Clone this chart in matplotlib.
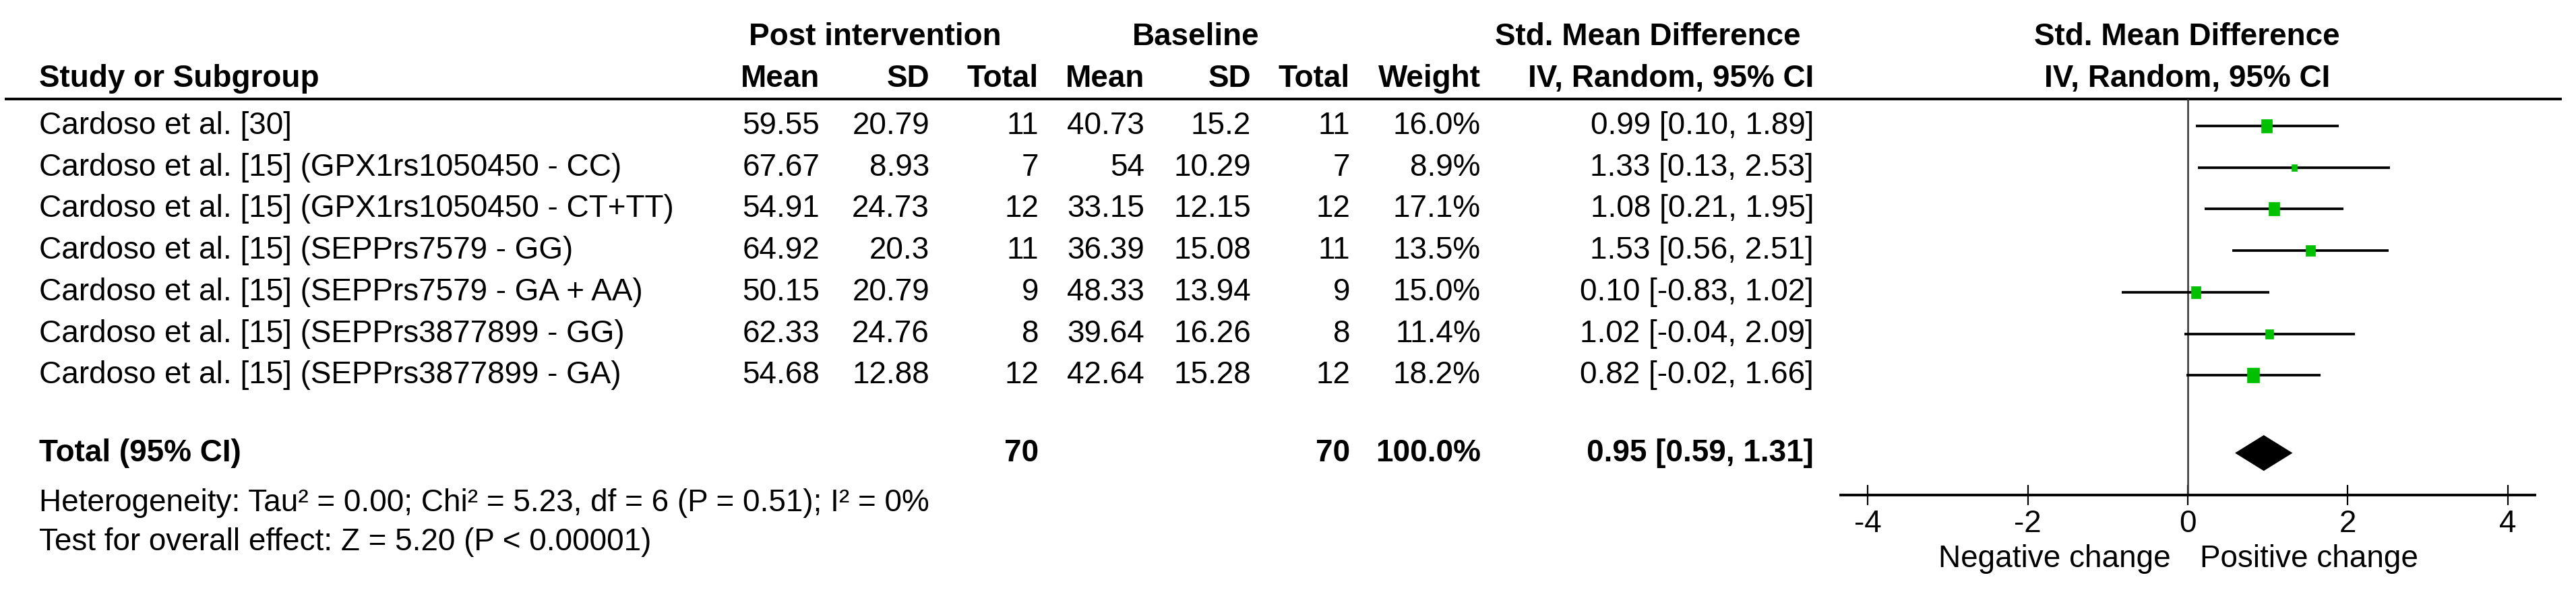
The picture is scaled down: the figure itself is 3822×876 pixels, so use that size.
import numpy as np
import matplotlib.pyplot as plt
from matplotlib.path import Path

plt.rcParams['font.family'] = ['Liberation Sans', 'DejaVu Sans']
plt.rcParams['axes.unicode_minus'] = False

# data
studies = [
    "Cardoso et al. [30]",
    "Cardoso et al. [15] (GPX1rs1050450 - CC)",
    "Cardoso et al. [15] (GPX1rs1050450 - CT+TT)",
    "Cardoso et al. [15] (SEPPrs7579 - GG)",
    "Cardoso et al. [15] (SEPPrs7579 - GA + AA)",
    "Cardoso et al. [15] (SEPPrs3877899 - GG)",
    "Cardoso et al. [15] (SEPPrs3877899 - GA)",
]
post_mean = [59.55, 67.67, 54.91, 64.92, 50.15, 62.33, 54.68]
post_sd = [20.79, 8.93, 24.73, 20.3, 20.79, 24.76, 12.88]
post_n = [11, 7, 12, 11, 9, 8, 12]
base_mean = [40.73, 54, 33.15, 36.39, 48.33, 39.64, 42.64]
base_sd = [15.2, 10.29, 12.15, 15.08, 13.94, 16.26, 15.28]
base_n = [11, 7, 12, 11, 9, 8, 12]
weight = [16.0, 8.9, 17.1, 13.5, 15.0, 11.4, 18.2]
smd = [0.99, 1.33, 1.08, 1.53, 0.10, 1.02, 0.82]
ci_lo = [0.10, 0.13, 0.21, 0.56, -0.83, -0.04, -0.02]
ci_hi = [1.89, 2.53, 1.95, 2.51, 1.02, 2.09, 1.66]

total_post_n = 70
total_base_n = 70
total_weight = 100.0
pooled = 0.95
pooled_lo = 0.59
pooled_hi = 1.31

heterogeneity = "Heterogeneity: Tau\u00b2 = 0.00; Chi\u00b2 = 5.23, df = 6 (P = 0.51); I\u00b2 = 0%"
overall = "Test for overall effect: Z = 5.20 (P < 0.00001)"
xticks = [-4, -2, 0, 2, 4]

# layout in pixels
W, H = 3822, 876
fs = 33
row0, row_step = 187, 61.7
total_row = 7.87
col_x = [1216, 1379, 1541, 1698, 1856, 2003, 2197, 2691]

fig = plt.figure(figsize=(W / 100, H / 100), dpi=100)
ax = fig.add_axes([0, 0, 1, 1])
ax.set_xlim(0, W)
ax.set_ylim(H, 0)
ax.axis('off')

def ypix(r):
    return row0 + row_step * r

# headers
ax.text(1298, 55, "Post intervention", ha='center', va='center', fontsize=fs, fontweight='bold')
ax.text(1774, 55, "Baseline", ha='center', va='center', fontsize=fs, fontweight='bold')
ax.text(2445, 55, "Std. Mean Difference", ha='center', va='center', fontsize=fs, fontweight='bold')
ax.text(3245, 55, "Std. Mean Difference", ha='center', va='center', fontsize=fs, fontweight='bold')
ax.text(58, 117, "Study or Subgroup", ha='left', va='center', fontsize=fs, fontweight='bold')
heads = ["Mean", "SD", "Total", "Mean", "SD", "Total", "Weight", "IV, Random, 95% CI"]
for x, h in zip(col_x, heads):
    ax.text(x, 117, h, ha='right', va='center', fontsize=fs, fontweight='bold')
ax.text(3245, 117, "IV, Random, 95% CI", ha='center', va='center', fontsize=fs, fontweight='bold')
ax.plot([7, 3801], [147, 147], color='black', lw=2.8, solid_capstyle='butt')

# study rows
for i, name in enumerate(studies):
    y = ypix(i)
    ax.text(58, y, name, ha='left', va='center', fontsize=fs)
    vals = [f"{post_mean[i]:g}", f"{post_sd[i]:g}", f"{post_n[i]}",
            f"{base_mean[i]:g}", f"{base_sd[i]:g}", f"{base_n[i]}",
            f"{weight[i]:.1f}%", f"{smd[i]:.2f} [{ci_lo[i]:.2f}, {ci_hi[i]:.2f}]"]
    for x, v in zip(col_x, vals):
        ax.text(x, y, v, ha='right', va='center', fontsize=fs)

# total row
yt = ypix(total_row)
ax.text(58, yt, "Total (95% CI)", ha='left', va='center', fontsize=fs, fontweight='bold')
ax.text(col_x[2], yt, f"{total_post_n}", ha='right', va='center', fontsize=fs, fontweight='bold')
ax.text(col_x[5], yt, f"{total_base_n}", ha='right', va='center', fontsize=fs, fontweight='bold')
ax.text(col_x[6], yt, f"{total_weight:.1f}%", ha='right', va='center', fontsize=fs, fontweight='bold')
ax.text(col_x[7], yt, f"{pooled:.2f} [{pooled_lo:.2f}, {pooled_hi:.2f}]", ha='right', va='center',
        fontsize=fs, fontweight='bold')
ax.text(58, 747, heterogeneity, ha='left', va='center', fontsize=fs)
ax.text(58, 805, overall, ha='left', va='center', fontsize=fs)
ax.text(3221, 830, "Negative change", ha='right', va='center', fontsize=fs)
ax.text(3264, 830, "Positive change", ha='left', va='center', fontsize=fs)

# forest panel
top, bottom, left, right = 147, 735, 2731, 3761
fx = fig.add_axes([left / W, 1 - bottom / H, (right - left) / W, (bottom - top) / H])
fx.set_xlim(-4.34, 4.34)
fx.set_ylim((bottom - row0) / row_step, (top - row0) / row_step)
fx.patch.set_visible(False)
for s in ['top', 'left', 'right']:
    fx.spines[s].set_visible(False)
fx.spines['bottom'].set_linewidth(2.8)
fx.set_yticks([])
fx.set_xticks(xticks)
fx.set_xticklabels([str(t) for t in xticks])
fx.tick_params(axis='x', direction='inout', length=22, width=1.6, pad=4, labelsize=fs)
fx.axvline(0, color='#333333', lw=1.8)

rows = np.arange(len(studies))
fx.hlines(rows, ci_lo, ci_hi, color='black', lw=2.7)
rect = Path([(-0.41, -0.5), (0.41, -0.5), (0.41, 0.5), (-0.41, 0.5), (-0.41, -0.5)],
            [Path.MOVETO, Path.LINETO, Path.LINETO, Path.LINETO, Path.CLOSEPOLY])
for i in rows:
    fx.plot(smd[i], i, marker=rect, markersize=0.86 * weight[i], color='#00c000', mec='#00c000',
            mew=0.5, ls='none', zorder=3)
dh = 0.43
fx.fill([pooled_lo, pooled, pooled_hi, pooled], [total_row, total_row - dh, total_row, total_row + dh],
        color='black', lw=0)

fig.savefig("out.png", dpi=100)
